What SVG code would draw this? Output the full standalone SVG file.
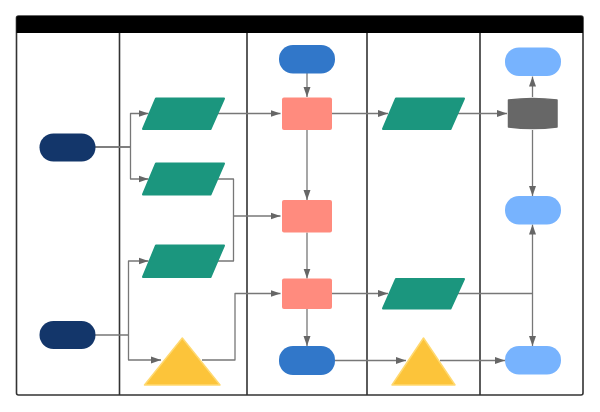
<svg xmlns="http://www.w3.org/2000/svg" width="600" height="412" viewBox="0 0 600 412">
<style>
.lane{fill:none;stroke:#333;stroke-width:1.6}
.c{fill:none;stroke:#777;stroke-width:1.3;stroke-linejoin:round;marker-end:url(#ah)}
.cn{fill:none;stroke:#777;stroke-width:1.3;stroke-linejoin:round}
.navy{fill:#13366a}
.blue{fill:#3177c9}
.lblue{fill:#77b3fe}
.teal{fill:#1b967e;stroke:#1b967e;stroke-width:2;stroke-linejoin:round}
.sal{fill:#ff8b7e}
.yel{fill:#fcc43a;stroke:#ffd970;stroke-width:1.5;stroke-linejoin:round}
.cyl{fill:#676767;stroke:#676767;stroke-width:1.5;stroke-linejoin:round}
</style>
<defs>
<marker id="ah" markerUnits="userSpaceOnUse" markerWidth="10" markerHeight="8" refX="10" refY="4" orient="auto">
<path d="M0,0.5 L10,4 L0,7.5 z" fill="#666"/>
</marker>
</defs>
<g id="pool">
<rect x="16.5" y="16" width="566.5" height="379" rx="2" fill="#fff" stroke="#333" stroke-width="1.6"/>
<path d="M16.5,33 V18 a2,2 0 0 1 2,-2 H581 a2,2 0 0 1 2,2 V33 Z" fill="#000"/>
<line class="lane" x1="119.5" y1="33" x2="119.5" y2="395"/>
<line class="lane" x1="247" y1="33" x2="247" y2="395"/>
<line class="lane" x1="367" y1="33" x2="367" y2="395"/>
<line class="lane" x1="480" y1="33" x2="480" y2="395"/>
</g>
<g id="connectors">
<path class="c" d="M95,147 H130.5 V113.5 H148.5"/>
<path class="c" d="M95,147 H130.5 V179 H148.5"/>
<path class="c" d="M217,113.5 H280.5"/>
<path class="cn" d="M217,179 H233.5 V261 H217"/>
<path class="c" d="M233.5,216 H280.5"/>
<path class="c" d="M95,335 H128.5 V261 H148.5"/>
<path class="c" d="M128.5,335 V360 H161"/>
<path class="c" d="M202,360 H235 V293.5 H280.5"/>
<path class="c" d="M307,73 V97"/>
<path class="c" d="M307,130 V200"/>
<path class="c" d="M307,232.5 V278.5"/>
<path class="c" d="M307,309 V346"/>
<path class="c" d="M332,113.5 H388"/>
<path class="c" d="M457,113.5 H507"/>
<path class="c" d="M532.5,97 V76.5"/>
<path class="c" d="M532.5,130 V196"/>
<path class="c" d="M332,293.5 H388"/>
<path class="c" d="M457,293.5 H532.5 V224.5"/>
<path class="c" d="M532.5,293.5 V346"/>
<path class="c" d="M335,360.5 H406"/>
<path class="c" d="M440,360.5 H505"/>
</g>
<g id="start1"><rect class="navy" x="39.5" y="133.5" width="56" height="28" rx="14"/></g>
<g id="start2"><rect class="navy" x="39.5" y="321" width="56" height="28" rx="14"/></g>
<g id="data1"><polygon class="teal" points="156,98.5 224,98.5 210.5,129 143,129"/></g>
<g id="data2"><polygon class="teal" points="156,163.5 224,163.5 210.5,194.5 143,194.5"/></g>
<g id="data3"><polygon class="teal" points="156,245.5 224,245.5 210.5,277 143,277"/></g>
<g id="merge1"><polygon class="yel" points="182.3,338 220,385 144.5,385"/></g>
<g id="term1"><rect class="blue" x="279" y="45" width="56" height="28.5" rx="14"/></g>
<g id="proc1"><rect class="sal" x="282" y="97.5" width="50" height="32.5" rx="2"/></g>
<g id="proc2"><rect class="sal" x="282" y="200" width="50" height="32.5" rx="2"/></g>
<g id="proc3"><rect class="sal" x="282" y="278.5" width="50" height="30.5" rx="2"/></g>
<g id="term2"><rect class="blue" x="279" y="346" width="56" height="29" rx="14"/></g>
<g id="data4"><polygon class="teal" points="396,98.5 464,98.5 450.5,129 383,129"/></g>
<g id="data5"><polygon class="teal" points="396,279 464,279 450.5,308.5 383,308.5"/></g>
<g id="merge2"><polygon class="yel" points="423.5,338 455,385 392,385"/></g>
<g id="end1"><rect class="lblue" x="505" y="47.5" width="56" height="28.5" rx="14"/></g>
<g id="db"><path class="cyl" d="M508.5,100 Q532.7,97 557,100 V127 Q532.7,130 508.5,127 Z"/></g>
<g id="end2"><rect class="lblue" x="505" y="196" width="56" height="28.5" rx="14"/></g>
<g id="end3"><rect class="lblue" x="505" y="346" width="56" height="28.5" rx="14"/></g>
</svg>
